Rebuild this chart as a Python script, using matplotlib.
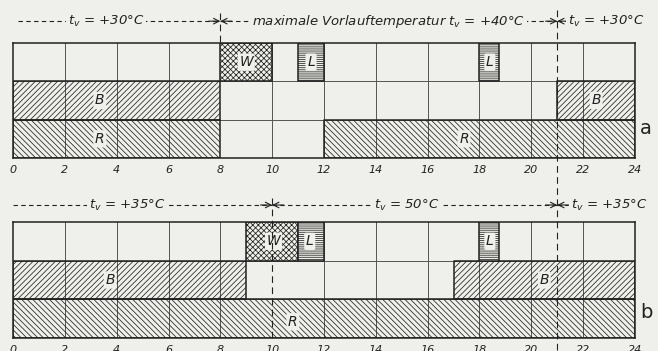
import matplotlib
matplotlib.use("Agg")
import matplotlib.pyplot as plt
import matplotlib.transforms as mtransforms

# hours on the time axis
hour_ticks = list(range(0, 25, 2))

# panel a: (start, duration) in hours for each row
a_R = [(0, 8), (12, 12)]
a_B = [(0, 8), (21, 3)]
a_W = [(8, 2)]
a_L = [(11, 1), (18, 0.75)]
a_switch = [8, 21]
a_temps = ["$t_v$ = +30°C", "maximale Vorlauftemperatur $t_v$ = +40°C", "$t_v$ = +30°C"]
a_temp_x = [3.6, 14.5, 22.9]

# panel b
b_R = [(0, 24)]
b_B = [(0, 9), (17, 7)]
b_W = [(9, 2)]
b_L = [(11, 1), (18, 0.75)]
b_switch = [10, 21]
b_temps = ["$t_v$ = +35°C", "$t_v$ = 50°C", "$t_v$ = +35°C"]
b_temp_x = [4.4, 15.2, 23.0]

# letters in the bars: (x, y, text)
a_letters = [(3.35, 1.5, "B"), (3.35, 0.5, "R"), (9, 2.5, "W"), (11.5, 2.5, "L"),
             (18.4, 2.5, "L"), (22.5, 1.5, "B"), (17.4, 0.5, "R")]
b_letters = [(3.75, 1.5, "B"), (10.8, 0.42, "R"), (10.05, 2.5, "W"), (11.45, 2.5, "L"),
             (18.4, 2.5, "L"), (20.5, 1.5, "B")]

paper = "#efefeb"
ink = "#222222"
plt.rcParams["hatch.linewidth"] = 0.55
plt.rcParams["font.family"] = "DejaVu Sans"


def draw_panel(ax, R, B, W, L, switch, temps, temp_x, letters, y_text, x_start):
    ax.set_facecolor(paper)
    ax.set_xlim(0, 24)
    ax.set_ylim(0, 3)
    # grid
    for h in hour_ticks[1:-1]:
        if h not in switch:
            ax.plot([h, h], [0, 3], color="#555555", lw=0.7, zorder=1)
    for y in [1, 2]:
        ax.plot([0, 24], [y, y], color="#555555", lw=0.7, zorder=1)
    # rows
    ax.broken_barh(R, (0, 1), facecolor="none", edgecolor=ink, hatch="\\" * 6, lw=1.1, zorder=2)
    ax.broken_barh(B, (1, 1), facecolor="none", edgecolor=ink, hatch="/" * 6, lw=1.1, zorder=2)
    ax.broken_barh(W, (2, 1), facecolor=paper, edgecolor=ink, hatch="x" * 6, lw=1.1, zorder=2)
    ax.broken_barh(L, (2, 1), facecolor=paper, edgecolor=ink, hatch="-" * 8, lw=1.1, zorder=2)
    for x, y, s in letters:
        ax.text(x, y, s, ha="center", va="center", fontsize=10, style="italic", color=ink,
                zorder=5, bbox=dict(boxstyle="round,pad=0.12", fc=paper, ec="none"))
    # temperature annotations above the panel
    ax.plot([x_start, switch[0]], [y_text, y_text], color=ink, lw=0.8, dashes=(4, 3), clip_on=False)
    ax.plot([switch[0], switch[1]], [y_text, y_text], color=ink, lw=0.8, dashes=(4, 3), clip_on=False)
    ax.plot([switch[1], switch[1] + 0.4], [y_text, y_text], color=ink, lw=0.8, dashes=(4, 3), clip_on=False)
    for sx in switch:
        ax.annotate("", xy=(sx, y_text), xytext=(sx - 0.45, y_text), annotation_clip=False,
                    arrowprops=dict(arrowstyle="->", lw=0.8, color=ink, shrinkA=0, shrinkB=0))
        ax.annotate("", xy=(sx, y_text), xytext=(sx + 0.45, y_text), annotation_clip=False,
                    arrowprops=dict(arrowstyle="->", lw=0.8, color=ink, shrinkA=0, shrinkB=0))
    for x, s in zip(temp_x, temps):
        ax.text(x, y_text, s, ha="center", va="center", fontsize=9.5, style="italic", color=ink,
                zorder=5, clip_on=False, bbox=dict(boxstyle="square,pad=0.15", fc=paper, ec="none"))
    # ticks
    ax.set_xticks(hour_ticks)
    ax.set_yticks([])
    ax.tick_params(axis="x", length=0, pad=5, labelsize=8, colors=ink)
    for lab in ax.get_xticklabels():
        lab.set_fontstyle("italic")
    for sp in ax.spines.values():
        sp.set_color(ink)
        sp.set_linewidth(1.1)


fig = plt.figure(figsize=(6.58, 3.51), dpi=100, facecolor=paper)
ax1 = fig.add_axes([13 / 658, 1 - 158 / 351, 622 / 658, 115 / 351])
ax2 = fig.add_axes([13 / 658, 1 - 338 / 351, 622 / 658, 116 / 351])

draw_panel(ax1, a_R, a_B, a_W, a_L, a_switch, a_temps, a_temp_x, a_letters, 3.57, 0.2)
draw_panel(ax2, b_R, b_B, b_W, b_L, b_switch, b_temps, b_temp_x, b_letters, 3.44, 0.0)

# dashed switch lines
tr1 = mtransforms.blended_transform_factory(ax1.transData, fig.transFigure)
fig.lines.append(plt.Line2D([a_switch[0]] * 2, [1 - 13 / 351, 1 - 43 / 351], transform=tr1,
                            color=ink, lw=0.8, dashes=(6, 4)))
fig.lines.append(plt.Line2D([21, 21], [1 - 10 / 351, 0.0], transform=tr1,
                            color=ink, lw=0.8, dashes=(6, 4), zorder=4))
tr2 = mtransforms.blended_transform_factory(ax2.transData, fig.transFigure)
fig.lines.append(plt.Line2D([b_switch[0]] * 2, [1 - 198 / 351, 1 - 338 / 351], transform=tr2,
                            color=ink, lw=0.8, dashes=(6, 4), zorder=4))

fig.text(640 / 658, 1 - 128 / 351, "a", fontsize=14, ha="left", va="center", color=ink)
fig.text(640 / 658, 1 - 313 / 351, "b", fontsize=14, ha="left", va="center", color=ink)

fig.savefig("out.png", dpi=100, facecolor=paper)
